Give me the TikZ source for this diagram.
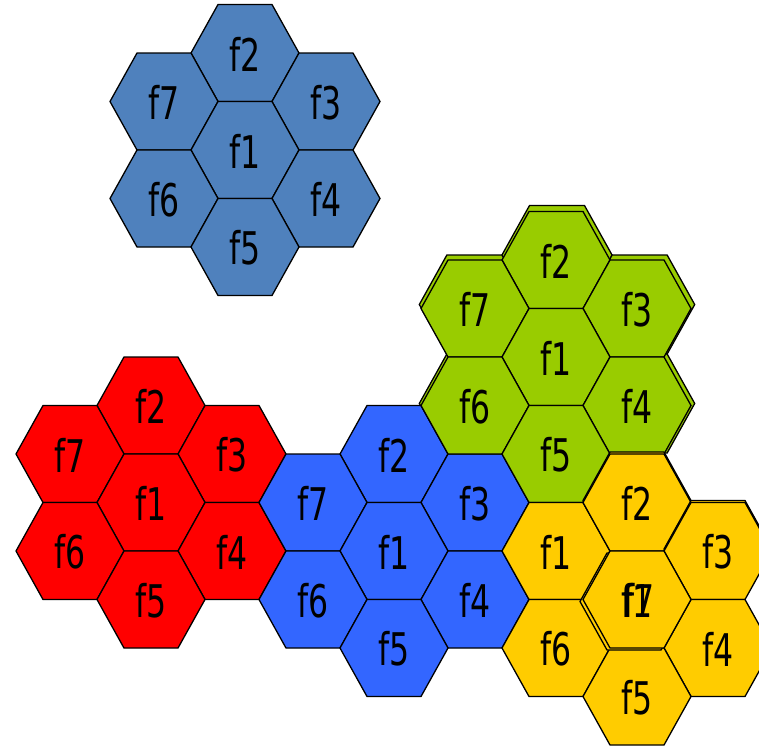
\documentclass[tikz,border=0pt]{standalone}
\usepackage{fontspec}
\newfontfamily\cellfont[FakeStretch=0.7]{DejaVu Sans}
\definecolor{cSteel}{RGB}{79,129,189}
\definecolor{cRed}{RGB}{255,0,0}
\definecolor{cRoyal}{RGB}{51,102,255}
\definecolor{cGreen}{RGB}{153,204,0}
\definecolor{cYellow}{RGB}{255,204,0}
\tikzset{
  cellline/.style={draw=black, line width=1.3pt, line join=miter},
  celltext/.style={font=\cellfont\fontsize{45}{45}\selectfont, inner sep=0pt, text=black, yshift=-1pt},
}
% #1 name, #2 x, #3 y, #4 fill, #5 label
\newcommand{\hexcell}[5]{%
  \path[cellline, fill=#4, shift={(#2,#3)}]
    (-54,0) -- (-27,-48.5) -- (27,-48.5) -- (54,0) -- (27,48.5) -- (-27,48.5) -- cycle;
  \node[celltext] (#1) at (#2,#3) {#5};
}
% hexagon only (duplicate outline), #1 x, #2 y, #3 fill, #4 scale
\newcommand{\hexcopy}[4]{%
  \path[cellline, fill=#3, shift={(#1,#2)}, scale=#4]
    (-54,0) -- (-27,-48.5) -- (27,-48.5) -- (54,0) -- (27,48.5) -- (-27,48.5) -- cycle;
}
\begin{document}
\begin{tikzpicture}[x=1pt, y=-1pt]
\useasboundingbox (0,0) rectangle (759,745);
\clip (0,0) rectangle (759,745);
\fill[white] (0,0) rectangle (759,745);

% ---------- top cluster (steel blue), centre (245,150)
\hexcell{t2}{245}{53}{cSteel}{f2}
\hexcell{t7}{164}{101.5}{cSteel}{f7}
\hexcell{t3}{326}{101.5}{cSteel}{f3}
\hexcell{t1}{245}{150}{cSteel}{f1}
\hexcell{t6}{164}{198.5}{cSteel}{f6}
\hexcell{t4}{326}{198.5}{cSteel}{f4}
\hexcell{t5}{245}{247}{cSteel}{f5}

% ---------- green cluster duplicate outlines (behind)
\begin{scope}[shift={(1,-3)}]
\begin{scope}[shift={(556,357)}, scale=1.02, shift={(-556,-357)}]
\hexcopy{556}{260}{cGreen}{1}
\hexcopy{475}{308.5}{cGreen}{1}
\hexcopy{637}{308.5}{cGreen}{1}
\hexcopy{475}{405.5}{cGreen}{1}
\hexcopy{637}{405.5}{cGreen}{1}
\end{scope}
\end{scope}

% ---------- red cluster, centre (151,502.5)
\hexcell{r2}{151}{405.5}{cRed}{f2}
\hexcell{r7}{70}{454}{cRed}{f7}
\hexcell{r3}{232}{454}{cRed}{f3}
\hexcell{r1}{151}{502.5}{cRed}{f1}
\hexcell{r6}{70}{551}{cRed}{f6}
\hexcell{r4}{232}{551}{cRed}{f4}
\hexcell{r5}{151}{599.5}{cRed}{f5}

% ---------- royal blue cluster, centre (394,551)
\hexcell{b2}{394}{454}{cRoyal}{f2}
\hexcell{b7}{313}{502.5}{cRoyal}{f7}
\hexcell{b3}{475}{502.5}{cRoyal}{f3}
\hexcell{b1}{394}{551}{cRoyal}{f1}
\hexcell{b6}{313}{599.5}{cRoyal}{f6}
\hexcell{b4}{475}{599.5}{cRoyal}{f4}
\hexcell{b5}{394}{648}{cRoyal}{f5}

% ---------- green cluster, centre (556,357)
\hexcell{g2}{556}{260}{cGreen}{f2}
\hexcell{g7}{475}{308.5}{cGreen}{f7}
\hexcell{g3}{637}{308.5}{cGreen}{f3}
\hexcell{g1}{556}{357}{cGreen}{f1}
\hexcell{g6}{475}{405.5}{cGreen}{f6}
\hexcell{g4}{637}{405.5}{cGreen}{f4}
\hexcell{g5}{556}{454}{cGreen}{f5}

% ---------- yellow cluster, centre (637,599.5)
\hexcopy{637}{500.5}{cYellow}{1}
\hexcell{y1}{556}{551}{cYellow}{f1}
\hexcell{y2}{637}{502.5}{cYellow}{f2}
\hexcopy{718}{549}{cYellow}{1}
\hexcell{y3}{718}{551}{cYellow}{f3}
\hexcell{y6}{556}{648}{cYellow}{f6}
\hexcell{y4}{718}{648}{cYellow}{f4}
\hexcell{y5}{637}{696.5}{cYellow}{f5}
\hexcopy{634}{601.5}{cYellow}{1}
\hexcell{yc}{637}{599.5}{cYellow}{f1}
\node[celltext] (yc7) at (639,599.5) {f7};
\end{tikzpicture}
\end{document}
